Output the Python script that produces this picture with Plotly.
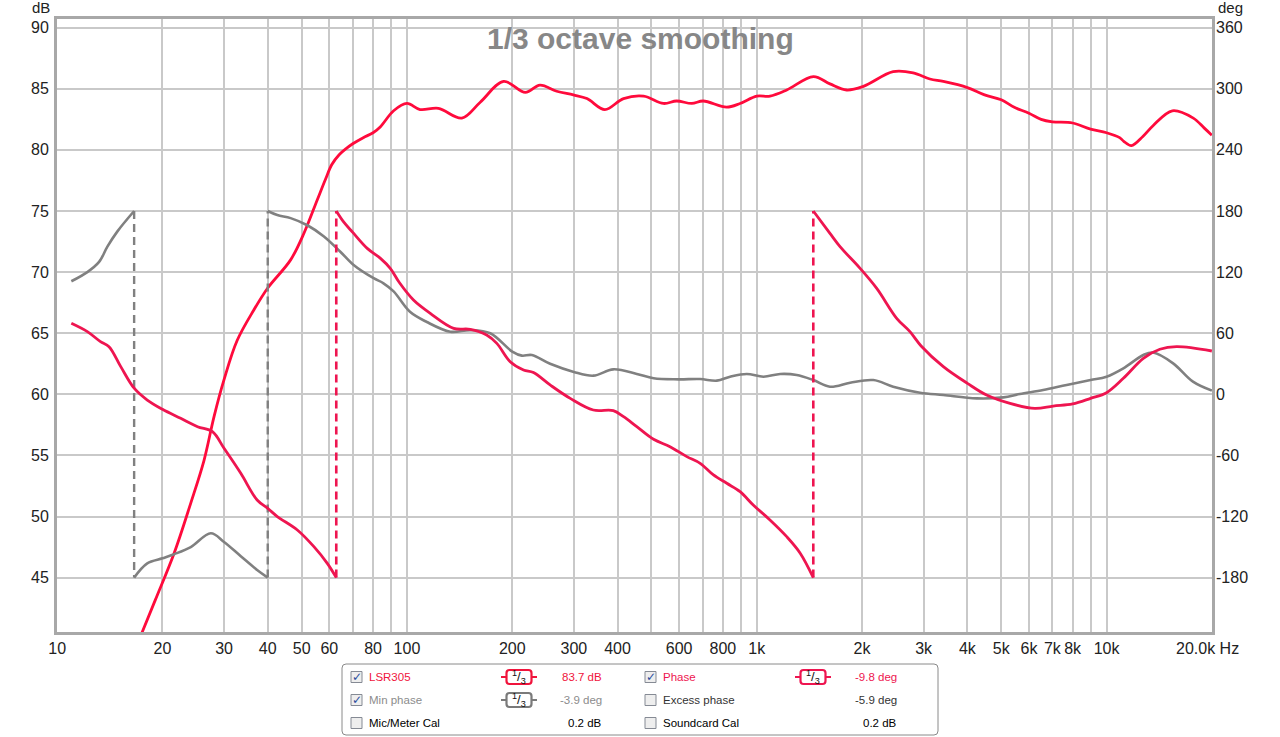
import math
import plotly.graph_objects as go

# ---------------- data ----------------
spl_freq = [17.2, 19.1, 21.6, 24.1, 26.3, 28.1, 30, 32.7, 36.5, 40, 46.5, 50.8, 55.4, 58.5, 61, 64, 67, 70,
            75, 80, 84, 91.6, 100, 109, 123, 143.5, 162, 189, 218, 240, 268, 299, 327, 368, 416, 475, 541,
            590, 652, 703, 820, 896, 1000, 1091, 1218, 1452, 1619, 1807, 2018, 2455, 2800, 3126, 3415,
            4000, 4480, 5000, 5430, 6000, 6500, 7000, 8000, 9000, 10000, 10900, 11200, 11780, 12700,
            13600, 15420, 17700, 19000, 20000]
spl_db = [40.0, 43.2, 47.0, 51.1, 54.6, 58.2, 61.2, 64.4, 66.9, 68.7, 71.0, 73.2, 75.9, 77.6, 78.8, 79.6,
          80.1, 80.5, 81.0, 81.4, 81.9, 83.2, 83.8, 83.3, 83.4, 82.6, 83.9, 85.6, 84.7, 85.3, 84.8, 84.5,
          84.2, 83.3, 84.2, 84.4, 83.8, 84.0, 83.8, 84.0, 83.5, 83.8, 84.4, 84.4, 84.9, 86.0, 85.4, 84.9,
          85.2, 86.4, 86.3, 85.8, 85.6, 85.1, 84.5, 84.1, 83.5, 83.0, 82.5, 82.3, 82.2, 81.7, 81.4, 81.0,
          80.7, 80.35, 81.1, 82.0, 83.2, 82.6, 81.8, 81.2]

phase_freq = [10.98, 12.2, 13.3, 14.07, 15.2, 16.6, 18.1, 20, 22.55, 25.2, 27.8, 30, 33.5, 37.3, 40, 42.6,
              48.6, 54.2, 59.2, 62.8, 62.8, 66, 70, 77, 84, 89.6, 95, 104.4, 116.6, 136, 151.7, 169,
              180.7, 197.3, 215.4, 230, 256.6, 293, 341, 389, 416, 454, 507, 565, 631, 689, 752, 821, 896,
              977, 1091, 1218, 1331, 1451, 1451, 1619, 1730, 1974, 2203, 2512, 2741, 2950, 3415, 4000,
              4540, 5297, 6240, 7037, 8000, 9000, 10000, 11170, 12740, 14200, 15850, 20000]
phase_deg = [69.7, 61.5, 51.7, 46.8, 27.2, 6, -5.6, -14.7, -23.6, -31.8, -36.7, -53, -77.6, -103.8, -112,
             -120, -133.2, -149.6, -166, -180, 180, 169, 159, 143.3, 133.5, 123.7, 110, 92.6, 79.5, 64.8,
             63.8, 58.2, 50, 32, 23.9, 21.3, 9.2, -4, -15.4, -16, -22, -31.8, -44.2, -51.4, -61.2, -67.8,
             -79.2, -87.4, -95.6, -108.7, -123.4, -139.8, -156, -180, 180, 158, 145, 123.7, 104, 74.6,
             61.5, 47.5, 27.2, 10.8, -0.7, -8.9, -13.8, -11.5, -9.5, -4, 1.6, 15.7, 35.3, 44.2, 46.8, 42.5]

minphase_freq = [10.98, 12.2, 13.18, 13.92, 14.87, 16.6, 16.6, 18.1, 20, 21.6, 24.1, 27.5, 30, 33.5, 37.3,
                 40, 40, 42.6, 46.5, 51.9, 57.9, 64.5, 70.4, 80.3, 85.7, 91.6, 102, 114, 133, 151.7, 173,
                 200, 213, 227.5, 256.6, 300, 341, 389, 454, 507, 598, 689, 769, 839, 936, 1045, 1167,
                 1301, 1451, 1619, 1849, 2154, 2455, 2930, 3415, 4252, 5070, 5650, 6590, 7690, 9000,
                 10000, 11170, 12740, 13580, 15500, 17660, 20000]
minphase_deg = [111, 120, 130, 145, 160, 180, -180, -166, -161, -157, -150, -136.5, -145, -159, -172.5,
                -180, 180, 176, 173, 166, 155, 140, 127, 114, 109, 101, 81, 71, 61.5, 63, 60, 42, 38,
                38.6, 30, 22, 18.3, 24.5, 20, 15.7, 14.7, 15, 13.4, 17.3, 20, 17.3, 20, 19, 14, 7.5,
                11.4, 14, 7.5, 1.6, -0.7, -4, -3, 0.3, 4.2, 9.2, 14, 17.3, 25.5, 38.6, 41, 30.4, 12.4, 3.6]

x_tickvals = [10, 20, 30, 40, 50, 60, 70, 80, 90, 100, 200, 300, 400, 500, 600, 700, 800, 900,
              1000, 2000, 3000, 4000, 5000, 6000, 7000, 8000, 9000, 10000, 20000]
x_ticktext = ["10", "20", "30", "40", "50", "60", "", "80", "", "100", "200", "300", "400", "", "600", "",
              "800", "", "1k", "2k", "3k", "4k", "5k", "6k", "7k", "8k", "", "10k", ""]
last_x_label = "20.0k Hz"
db_ticks = [45, 50, 55, 60, 65, 70, 75, 80, 85, 90]
deg_ticks = [-180, -120, -60, 0, 60, 120, 180, 240, 300, 360]
deg_ticktext = [str(v) for v in deg_ticks]

title_text = "1/3 octave smoothing"
legend_rows = [
    # (label, label colour, value, value colour, smoothing icon colour or None, checked)
    [("LSR305", "#f0143c", "83.7 dB", "#f0143c", "#f0143c", True),
     ("Phase", "#ee1550", "-9.8 deg", "#ee1550", "#ee1550", True)],
    [("Min phase", "#8c8c8c", "-3.9 deg", "#8c8c8c", "#7a7a7a", True),
     ("Excess phase", "#333333", "-5.9 deg", "#333333", None, False)],
    [("Mic/Meter Cal", "#000000", "0.2 dB", "#000000", None, False),
     ("Soundcard Cal", "#000000", "0.2 dB", "#000000", None, False)],
]

# ---------------- layout constants ----------------
W, H = 1280, 737
L, R, T, B = 57, 68, 19, 105
PW, PH = W - L - R, H - T - B
SPL_COL = "#ff0a3c"
PH_COL = "#ee1550"
MIN_COL = "#808080"
FONT = "Liberation Sans, Arial, sans-serif"

db_lo, db_hi = 40.55, 90.71


def db2deg(v):
    return (v - 45) * 12 - 180


def px(x):
    return (x - L) / PW


def py(y):
    return (H - B - y) / PH


def rounded_path(x0, y0, x1, y1, r):
    return (f"M {px(x0 + r)} {py(y0)} L {px(x1 - r)} {py(y0)} Q {px(x1)} {py(y0)} {px(x1)} {py(y0 + r)} "
            f"L {px(x1)} {py(y1 - r)} Q {px(x1)} {py(y1)} {px(x1 - r)} {py(y1)} "
            f"L {px(x0 + r)} {py(y1)} Q {px(x0)} {py(y1)} {px(x0)} {py(y1 - r)} "
            f"L {px(x0)} {py(y0 + r)} Q {px(x0)} {py(y0)} {px(x0 + r)} {py(y0)} Z")


def split_wrapped(freqs, degs):
    segs = [[[freqs[0]], [degs[0]]]]
    jumps = []
    for i in range(1, len(freqs)):
        if abs(degs[i] - degs[i - 1]) > 180:
            jumps.append(([freqs[i - 1], freqs[i]], [degs[i - 1], degs[i]]))
            segs.append([[freqs[i]], [degs[i]]])
        else:
            segs[-1][0].append(freqs[i])
            segs[-1][1].append(degs[i])
    return segs, jumps


fig = go.Figure()
SM = 1.0

# min phase (grey)
segs, jumps = split_wrapped(minphase_freq, minphase_deg)
for fx, dy in segs:
    fig.add_trace(go.Scatter(x=fx, y=dy, yaxis="y2", mode="lines",
                             line=dict(color=MIN_COL, width=2.6, shape="spline", smoothing=SM),
                             hoverinfo="skip", showlegend=False))
for fx, dy in jumps:
    fig.add_trace(go.Scatter(x=fx, y=dy, yaxis="y2", mode="lines",
                             line=dict(color=MIN_COL, width=2.4, dash="8px,5px"),
                             hoverinfo="skip", showlegend=False))

# phase (red)
segs, jumps = split_wrapped(phase_freq, phase_deg)
for fx, dy in segs:
    fig.add_trace(go.Scatter(x=fx, y=dy, yaxis="y2", mode="lines",
                             line=dict(color=PH_COL, width=2.8, shape="spline", smoothing=SM),
                             hoverinfo="skip", showlegend=False))
for fx, dy in jumps:
    fig.add_trace(go.Scatter(x=fx, y=dy, yaxis="y2", mode="lines",
                             line=dict(color=PH_COL, width=2.6, dash="8px,5px"),
                             hoverinfo="skip", showlegend=False))

# SPL (red)
fig.add_trace(go.Scatter(x=spl_freq, y=spl_db, mode="lines",
                         line=dict(color=SPL_COL, width=2.8, shape="spline", smoothing=SM),
                         hoverinfo="skip", showlegend=False))

shapes = []
annotations = []

# title
annotations.append(dict(x=px(640), y=py(38), xref="paper", yref="paper", text="<b>" + title_text + "</b>",
                        showarrow=False, font=dict(family=FONT, size=30, color="#878787"),
                        xanchor="center", yanchor="middle"))
# axis unit labels
annotations.append(dict(x=px(41), y=py(8), xref="paper", yref="paper", text="dB", showarrow=False,
                        font=dict(family=FONT, size=15, color="#222"), xanchor="center", yanchor="middle"))
annotations.append(dict(x=px(1230), y=py(8), xref="paper", yref="paper", text="deg", showarrow=False,
                        font=dict(family=FONT, size=15, color="#222"), xanchor="center", yanchor="middle"))
annotations.append(dict(x=px(1207), y=py(648), xref="paper", yref="paper", text=last_x_label, showarrow=False,
                        font=dict(family=FONT, size=16, color="#222"), xanchor="center", yanchor="middle"))

# legend box
shapes.append(dict(type="path", path=rounded_path(342, 664, 938, 735, 4), xref="paper", yref="paper",
                   line=dict(color="#8a8a8a", width=1), fillcolor="white", layer="above"))

row_y = [677, 700, 723]
col_x = [(351, 367, 519, 604), (645, 661, 813, 899)]
for ri, row in enumerate(legend_rows):
    yc = row_y[ri]
    for ci, (lab, lcol, val, vcol, icol, checked) in enumerate(row):
        cbx, lx, ix, vx = col_x[ci]
        # checkbox
        shapes.append(dict(type="rect", xref="paper", yref="paper", x0=px(cbx), x1=px(cbx + 11),
                           y0=py(yc - 5.5), y1=py(yc + 5.5), line=dict(color="#858a94", width=1),
                           fillcolor="#eeeeee", layer="above"))
        if checked:
            annotations.append(dict(x=px(cbx + 6), y=py(yc), xref="paper", yref="paper", text="<b>✓</b>",
                                    showarrow=False, font=dict(family="DejaVu Sans", size=12, color="#2a4c9c"),
                                    xanchor="center", yanchor="middle"))
        annotations.append(dict(x=px(lx), y=py(yc), xref="paper", yref="paper", text=lab, showarrow=False,
                                font=dict(family=FONT, size=11.5, color=lcol), xanchor="left",
                                yanchor="middle"))
        annotations.append(dict(x=px(vx), y=py(yc), xref="paper", yref="paper", text=val, showarrow=False,
                                font=dict(family=FONT, size=11.5, color=vcol), xanchor="right",
                                yanchor="middle"))
        if icol:
            shapes.append(dict(type="line", xref="paper", yref="paper", x0=px(ix - 18), x1=px(ix + 18),
                               y0=py(yc), y1=py(yc), line=dict(color=icol, width=2), layer="above"))
            shapes.append(dict(type="path", path=rounded_path(ix - 12.5, yc - 7, ix + 12.5, yc + 7, 3),
                               xref="paper", yref="paper", line=dict(color=icol, width=2.2),
                               fillcolor="white", layer="above"))
            annotations.append(dict(x=px(ix), y=py(yc), xref="paper", yref="paper",
                                    text="<sup>1</sup>/<sub>3</sub>", showarrow=False,
                                    font=dict(family=FONT, size=13, color="#111"),
                                    xanchor="center", yanchor="middle"))

fig.update_layout(
    width=W, height=H,
    margin=dict(l=L, r=R, t=T, b=B, pad=0),
    paper_bgcolor="white", plot_bgcolor="white",
    font=dict(family=FONT, size=16, color="#222"),
    showlegend=False,
    xaxis=dict(type="log", range=[math.log10(10) - 0.0004, math.log10(20000) + 0.0004],
               tickvals=x_tickvals, ticktext=x_ticktext, ticks="", showgrid=True,
               gridcolor="#c9c9c9", gridwidth=1.5, zeroline=False, showline=True, linecolor="#a8a8a8",
               linewidth=3, mirror=True, tickfont=dict(size=16, color="#222"), ticklabelstandoff=0),
    yaxis=dict(range=[db_lo, db_hi], tickvals=db_ticks, ticks="", showgrid=True, gridcolor="#c9c9c9",
               gridwidth=1.5, zeroline=False, showline=True, linecolor="#a8a8a8", linewidth=3, mirror=True,
               tickfont=dict(size=16, color="#222"), ticklabelstandoff=2),
    yaxis2=dict(range=[db2deg(db_lo), db2deg(db_hi)], tickvals=deg_ticks, ticktext=deg_ticktext,
                overlaying="y", side="right", ticks="", showgrid=False, zeroline=False, showline=False,
                tickfont=dict(size=16, color="#222"), ticklabelstandoff=3),
    shapes=shapes, annotations=annotations,
)

fig.write_html("out.html", config={"displayModeBar": False},
               post_script="document.body.style.margin='0';document.body.style.overflow='hidden';")
